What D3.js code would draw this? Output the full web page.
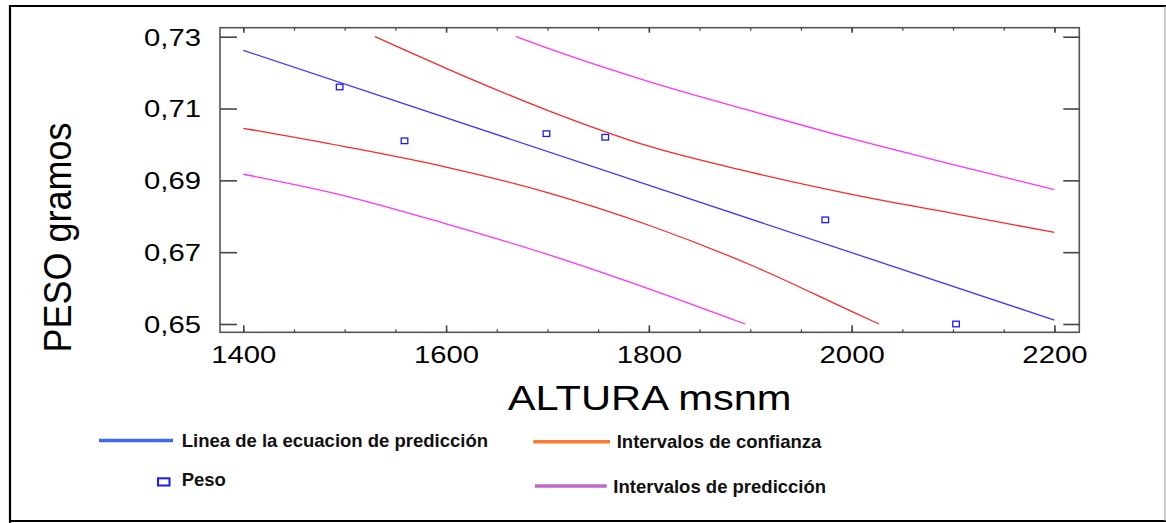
<!DOCTYPE html>
<html>
<head>
<meta charset="utf-8">
<script src="https://cdn.jsdelivr.net/npm/d3@7/dist/d3.min.js"></script>
<style>
  html, body { margin: 0; padding: 0; background: #fff; }
  svg { display: block; }
  text { font-family: "Liberation Sans", Arial, sans-serif; }
</style>
</head>
<body>
<svg id="chart" width="1166" height="523"></svg>
<script>
// ---- data ----
const xTicks = [1400, 1600, 1800, 2000, 2200];
const yTicks = [0.65, 0.67, 0.69, 0.71, 0.73];
const xMinorTicks = [1400, 1450, 1500, 1550, 1600, 1650, 1700, 1750, 1800, 1850, 1900, 1950, 2000, 2050, 2100, 2150, 2200];

// observed points (Peso)
const pesoAltura = [1495, 1559, 1699, 1757, 1974, 2103];
const pesoValor  = [0.716, 0.701, 0.703, 0.702, 0.679, 0.650];

// prediction equation line
const lineaAltura = [1400, 2200];
const lineaValor  = [0.7262, 0.6511];

// confidence interval (upper / lower)
const ciSupAltura = [1530, 1600, 1700, 1800, 1900, 2000, 2100, 2200];
const ciSupValor  = [0.7300, 0.7212, 0.7095, 0.6995, 0.6923, 0.6861, 0.6808, 0.6755];
const ciInfAltura = [1400, 1500, 1600, 1700, 1800, 1900, 2000, 2027];
const ciInfValor  = [0.7045, 0.6994, 0.6937, 0.6866, 0.6775, 0.6665, 0.6535, 0.6500];

// prediction interval (upper / lower)
const piSupAltura = [1669, 1700, 1800, 1900, 2000, 2100, 2200];
const piSupValor  = [0.7300, 0.7268, 0.7175, 0.7094, 0.7016, 0.6944, 0.6874];
const piInfAltura = [1400, 1500, 1600, 1700, 1800, 1895];
const piInfValor  = [0.6917, 0.6857, 0.6779, 0.6694, 0.6598, 0.6500];

const legendItems = ["Linea de la ecuacion de predicción", "Peso", "Intervalos de confianza", "Intervalos de predicción"];
const xTitle = "ALTURA msnm";
const yTitle = "PESO gramos";

// ---- layout ----
const svg = d3.select("#chart");
const box = {left: 220, top: 27.7, right: 1079.3, bottom: 332.3};
const sx = 1.22; // horizontal stretch of the original graphic

const x = d3.scaleLinear().domain([1400, 2200]).range([243.3, 1054.4]);
const y = d3.scaleLinear().domain([0.65, 0.73]).range([324, 36.7]);

// outer frame
svg.append("line").attr("x1", 9).attr("x2", 1166).attr("y1", 6).attr("y2", 6).attr("stroke", "#000").attr("stroke-width", 2.2);
svg.append("line").attr("x1", 10).attr("x2", 10).attr("y1", 5).attr("y2", 523).attr("stroke", "#000").attr("stroke-width", 2.2);
svg.append("line").attr("x1", 9).attr("x2", 1166).attr("y1", 521).attr("y2", 521).attr("stroke", "#000").attr("stroke-width", 2);
svg.append("line").attr("x1", 1165).attr("x2", 1165).attr("y1", 6).attr("y2", 521).attr("stroke", "#999").attr("stroke-width", 1);

// plot box
svg.append("rect")
  .attr("x", box.left).attr("y", box.top)
  .attr("width", box.right - box.left).attr("height", box.bottom - box.top)
  .attr("fill", "none").attr("stroke", "#555").attr("stroke-width", 1.6);

const axisColor = "#444";
function styleAxis(g) {
  g.select(".domain").remove();
  g.selectAll(".tick line").attr("stroke", axisColor).attr("stroke-width", 1.6);
}

// left axis (ticks inward)
const gl = svg.append("g").attr("transform", `translate(${box.left},0)`)
  .call(d3.axisLeft(y).tickValues(yTicks).tickSize(-17).tickPadding(19)
    .tickFormat(d => d3.format(".2f")(d).replace(".", ",")));
styleAxis(gl);
gl.selectAll(".tick text")
  .attr("font-size", 24).attr("fill", "#000")
  .attr("font-family", "'Liberation Sans', Arial, sans-serif")
  .attr("x", 0).attr("dy", "0.35em")
  .attr("transform", `translate(-19,0) scale(${sx},1)`);

// right axis (ticks inward, no labels)
const gr = svg.append("g").attr("transform", `translate(${box.right},0)`)
  .call(d3.axisRight(y).tickValues(yTicks).tickSize(-16).tickFormat(""));
styleAxis(gr);

// bottom axis: minor ticks
const gbm = svg.append("g").attr("transform", `translate(0,${box.bottom})`)
  .call(d3.axisBottom(x).tickValues(xMinorTicks).tickSize(-3).tickFormat(""));
styleAxis(gbm);
gbm.selectAll(".tick line").attr("stroke-width", 1.2);
// bottom axis: major ticks with labels
const gb = svg.append("g").attr("transform", `translate(0,${box.bottom})`)
  .call(d3.axisBottom(x).tickValues(xTicks).tickSize(-7).tickPadding(14).tickFormat(d3.format("d")));
styleAxis(gb);
gb.selectAll(".tick text")
  .attr("font-size", 24).attr("fill", "#000")
  .attr("font-family", "'Liberation Sans', Arial, sans-serif")
  .attr("transform", `scale(${sx},1)`)
  .attr("x", 0);

// top axis: minor + major ticks (inward)
const gtm = svg.append("g").attr("transform", `translate(0,${box.top})`)
  .call(d3.axisTop(x).tickValues(xMinorTicks).tickSize(-3).tickFormat(""));
styleAxis(gtm);
gtm.selectAll(".tick line").attr("stroke-width", 1.2);
const gt = svg.append("g").attr("transform", `translate(0,${box.top})`)
  .call(d3.axisTop(x).tickValues(xTicks).tickSize(-5).tickFormat(""));
styleAxis(gt);

// axis titles
svg.append("text")
  .attr("transform", `translate(${(box.left + box.right) / 2},410) scale(1.19,1)`)
  .attr("text-anchor", "middle").attr("font-size", 35).attr("fill", "#000")
  .text(xTitle);
svg.append("text")
  .attr("transform", `translate(70.5,237.5) rotate(-90) scale(1,1.07)`)
  .attr("text-anchor", "middle").attr("font-size", 36).attr("fill", "#000")
  .text(yTitle);

// ---- series ----
const lineGen = d3.line().x(d => x(d[0])).y(d => y(d[1])).curve(d3.curveMonotoneX);
const zipS = (a, b) => a.map((v, i) => [v, b[i]]);

const plotG = svg.append("g");
function drawLine(xs, ys, color) {
  plotG.append("path").datum(zipS(xs, ys))
    .attr("d", lineGen).attr("fill", "none")
    .attr("stroke", color).attr("stroke-width", 1.3);
}
drawLine(piSupAltura, piSupValor, "#ff33ff");
drawLine(piInfAltura, piInfValor, "#ff33ff");
drawLine(ciSupAltura, ciSupValor, "#ff2626");
drawLine(ciInfAltura, ciInfValor, "#ff2626");
drawLine(lineaAltura, lineaValor, "#3a3aff");

plotG.selectAll("rect.pt").data(zipS(pesoAltura, pesoValor)).enter()
  .append("rect").attr("class", "pt")
  .attr("x", d => x(d[0]) - 3.3).attr("y", d => y(d[1]) - 2.8)
  .attr("width", 6.6).attr("height", 5.6)
  .attr("fill", "#fff").attr("stroke", "#1a1aff").attr("stroke-width", 1.3);

// ---- legend ----
const lg = svg.append("g").attr("font-weight", "bold").attr("font-size", 18.5).attr("fill", "#111");
lg.append("line").attr("x1", 99).attr("x2", 173).attr("y1", 440.5).attr("y2", 440.5)
  .attr("stroke", "#4169f0").attr("stroke-width", 3.5);
lg.append("text").attr("x", 181.7).attr("y", 447.3).text(legendItems[0]);

lg.append("rect").attr("x", 158).attr("y", 478.3).attr("width", 11.5).attr("height", 7.2)
  .attr("fill", "#fff").attr("stroke", "#1a1aff").attr("stroke-width", 2);
lg.append("text").attr("x", 181.7).attr("y", 486.3).text(legendItems[1]);

lg.append("line").attr("x1", 533.3).attr("x2", 610).attr("y1", 441.7).attr("y2", 441.7)
  .attr("stroke", "#fb7b2c").attr("stroke-width", 3.5);
lg.append("text").attr("x", 616.7).attr("y", 448.3).text(legendItems[2]);

lg.append("line").attr("x1", 535).attr("x2", 606.7).attr("y1", 486).attr("y2", 486)
  .attr("stroke", "#c266c4").attr("stroke-width", 3.5);
lg.append("text").attr("x", 613.3).attr("y", 493.3).text(legendItems[3]);
</script>
</body>
</html>
